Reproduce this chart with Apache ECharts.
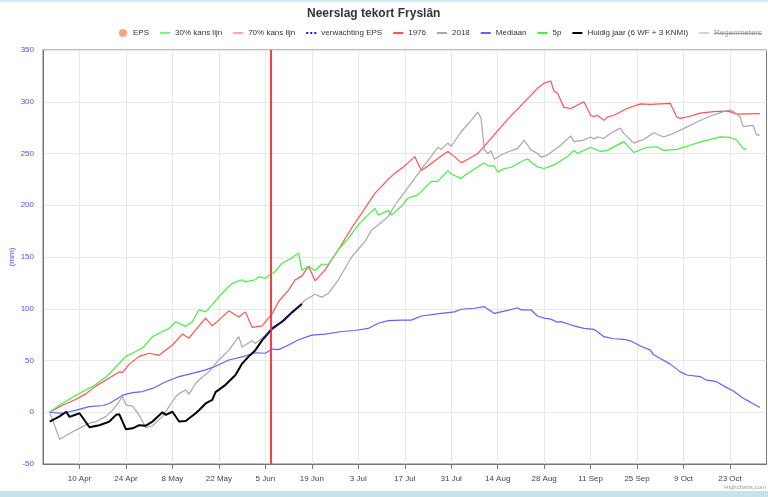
<!DOCTYPE html>
<html><head><meta charset="utf-8">
<script src="https://cdn.jsdelivr.net/npm/echarts@6/dist/echarts.min.js"></script>
<style>html,body{margin:0;padding:0;background:#fff}#c{width:768px;height:497px}</style>
</head><body><div id="c"></div>
<script>
const YEAR = 2023;
const chartTitle = 'Neerslag tekort Fryslân';
const monthNames = ['Jan','Feb','Mar','Apr','May','Jun','Jul','Aug','Sep','Oct','Nov','Dec'];
const xTicks = ['04-10','04-24','05-08','05-22','06-05','06-19','07-03','07-17','07-31','08-14','08-28','09-11','09-25','10-09','10-23'];
const xMin = '03-30', xMax = '11-03';
const todayLine = '06-06 17';
const yMin = -50, yMax = 350, yStep = 50;

const eps = [];
const kans30 = [];
const kans70 = [];
const verwachtingEPS = [['06-04',69.5],['06-07',80.5],['06-10',87.5],['06-13',96.5],['06-16',104.5]];
const y1976 = [['04-01',0],['04-05',7],['04-09',12.5],['04-12',18],['04-15',25.5],['04-19',33],['04-22',39],['04-23',38.5],['04-25',46.5],['04-28',54],['05-01',57],['05-04',55],['05-08',65],['05-11',75.5],['05-13',71.5],['05-15',79.5],['05-18',91],['05-20',83.5],['05-22',89],['05-25',98],['05-28',92],['05-30',97],['06-01',82],['06-04',83.5],['06-07',95],['06-09',107],['06-12',118],['06-14',128],['06-16',131.5],['06-18',141],['06-20',127],['06-23',137.5],['06-27',157],['07-01',178],['07-05',197],['07-08',211.5],['07-12',225],['07-14',231],['07-17',238],['07-20',247],['07-22',233.5],['07-24',238],['07-28',247.5],['07-30',252],['08-01',247],['08-03',241],['08-05',244.5],['08-08',250],['08-09',253.5],['08-17',283],['08-26',313],['08-28',318],['08-30',320],['08-31',310],['09-01',308.5],['09-03',294.5],['09-05',293.5],['09-09',300],['09-11',287],['09-12',285.5],['09-13',287],['09-15',282],['09-16',285],['09-18',287],['09-22',293.5],['09-26',298],['09-29',297.5],['10-02',298],['10-05',298.5],['10-07',285],['10-08',284],['10-11',286],['10-14',289],['10-18',290.5],['10-21',291],['10-23',290.5],['10-25',288],['11-01',288.5]];
const y2018 = [['04-01',0],['04-04',-26],['04-09',-17],['04-13',-10.5],['04-15',-9],['04-18',-4],['04-20',2],['04-23',15],['04-24',7],['04-26',6],['04-28',-3],['04-30',-15],['05-02',-13],['05-05',-4],['05-09',15],['05-10',18],['05-12',21.5],['05-13',17.5],['05-15',28],['05-17',34],['05-19',39],['05-22',50.5],['05-25',60],['05-28',73],['05-29',63],['06-01',69],['06-02',66.5],['06-05',74.5],['06-07',82],['06-11',89],['06-14',99],['06-17',108.5],['06-20',114],['06-22',111],['06-24',115],['06-27',128],['07-01',150],['07-05',165],['07-07',176],['07-09',181],['07-12',189],['07-14',200],['07-17',213],['07-20',226],['07-23',239],['07-27',256],['07-28',254],['07-30',260],['07-31',257],['08-03',271],['08-06',282],['08-08',290],['08-09',284],['08-10',253.5],['08-11',250],['08-12',252.5],['08-13',244.5],['08-15',248.5],['08-17',251.5],['08-20',255],['08-22',263],['08-24',253.5],['08-26',250],['08-27',246.5],['08-29',248.5],['09-02',258],['09-05',267],['09-06',261.5],['09-09',263],['09-11',266],['09-12',264],['09-13',266],['09-15',264.5],['09-17',269.5],['09-20',274.5],['09-21',269.5],['09-24',260],['09-27',263.5],['09-30',270],['10-03',266],['10-06',269.5],['10-09',274],['10-13',280.5],['10-17',286],['10-21',290.5],['10-23',292],['10-24',290.5],['10-26',285.5],['10-27',276],['10-29',277],['10-30',277],['10-31',268],['11-01',268]];
const mediaan = [['04-01',0],['04-05',-1],['04-09',2],['04-13',5.5],['04-17',6.5],['04-19',8.5],['04-23',16.5],['04-26',19],['04-29',20],['05-02',23],['05-06',29.5],['05-10',34.5],['05-14',37.5],['05-18',41],['05-21',44.5],['05-25',50.5],['05-29',53.5],['06-02',57.5],['06-05',57],['06-07',61],['06-09',60.5],['06-12',65],['06-15',70],['06-19',74.5],['06-23',75.5],['06-28',78],['07-02',79],['07-06',81],['07-09',86],['07-12',88.5],['07-16',89],['07-19',89],['07-22',93],['07-28',95.5],['08-01',97],['08-03',99.5],['08-07',100.5],['08-10',102],['08-13',95.5],['08-17',98.5],['08-20',101],['08-21',99],['08-24',99],['08-26',93],['08-28',91],['08-30',90],['09-01',87],['09-02',87.5],['09-04',85.5],['09-06',83.5],['09-09',81],['09-12',80],['09-13',78],['09-15',73],['09-18',71],['09-21',70.5],['09-23',69],['09-26',64],['09-29',60],['09-30',55.5],['10-02',52],['10-05',46.5],['10-08',39],['10-10',36],['10-14',34.5],['10-16',31],['10-19',29.5],['10-21',25.5],['10-24',20.5],['10-27',13.5],['10-29',10],['11-01',4.5]];
const p5 = [['04-01',0],['04-04',7],['04-09',16.5],['04-11',20],['04-14',25],['04-18',34],['04-21',44],['04-24',54],['04-25',55.5],['04-29',62],['05-02',73],['05-05',78],['05-07',81],['05-09',87.5],['05-12',83],['05-14',87.5],['05-16',99],['05-18',97],['05-20',104],['05-23',115],['05-26',124.5],['05-29',128],['05-30',126],['06-02',128],['06-03',131],['06-05',129.5],['06-07',134],['06-08',136],['06-10',144],['06-13',149],['06-15',154],['06-16',137],['06-18',141],['06-20',137],['06-22',143],['06-24',143],['06-27',157],['06-30',168],['07-03',181],['07-06',191],['07-08',197],['07-09',190.5],['07-12',195],['07-13',190.5],['07-16',199],['07-18',207],['07-21',210],['07-25',223],['07-27',223],['07-30',233.5],['07-31',230],['08-03',226],['08-05',231],['08-10',241],['08-11',238],['08-13',238],['08-14',232],['08-16',235.5],['08-18',236.5],['08-21',242],['08-23',245],['08-24',242],['08-26',237],['08-28',235.5],['08-31',239],['09-04',247],['09-06',253],['09-07',250],['09-11',256],['09-14',252],['09-16',253],['09-21',261.5],['09-24',251],['09-28',256],['10-01',256.5],['10-03',253],['10-07',254],['10-11',258],['10-15',262],['10-20',266],['10-23',265.5],['10-25',263],['10-27',255],['10-28',254]];
const huidigJaar = [['04-01',-9],['04-04',-4],['04-06',0.5],['04-07',-4.5],['04-10',-1],['04-13',-14.5],['04-16',-12.5],['04-19',-9],['04-21',-2.5],['04-22',-2],['04-24',-16.5],['04-26',-15.5],['04-28',-12.5],['04-30',-13],['05-02',-9],['05-05',0],['05-06',-2.5],['05-08',0.5],['05-10',-9],['05-12',-8.5],['05-15',-1],['05-16',2],['05-18',8.5],['05-20',12],['05-21',19.5],['05-24',26.5],['05-27',36],['05-29',47],['05-31',54],['06-02',60],['06-04',69.5],['06-07',80.5],['06-10',87.5],['06-13',96.5],['06-16',104.5]];
const regenmeters = [];

function t(s){const p=s.split(' ');const md=p[0].split('-').map(Number);return new Date(YEAR,md[0]-1,md[1],p[1]?+p[1]:0).getTime();}
function pts(a){return a.map(d=>[t(d[0]),d[1]]);}
const FONT='Liberation Sans, Arial, sans-serif';
const tickVals = xTicks.map(t);

const chart = echarts.init(document.getElementById('c'),null,{renderer:'canvas'});
function line(name,data,color,width,extra){
  return Object.assign({name,type:'line',data:pts(data),symbol:'none',showSymbol:false,color,
    lineStyle:{color,width},emphasis:{disabled:true},animation:false},extra||{});
}
chart.setOption({
  animation:false,
  backgroundColor:'#fff',
  title:{text:chartTitle,left:307,top:8,padding:0,textStyle:{fontFamily:FONT,fontSize:12,fontWeight:'bold',color:'#333'}},
  legend:{left:119,top:29,width:700,itemWidth:10,itemHeight:8,itemGap:10,padding:0,
    textStyle:{fontFamily:FONT,fontSize:8,color:'#333'},inactiveColor:'#999',
    itemStyle:{opacity:0},
    selected:{'Regenmeters':false},
    data:[{name:'EPS',icon:'circle',itemStyle:{opacity:1}},'30% kans lijn','70% kans lijn','verwachting EPS','1976','2018','Mediaan','5p','Huidig jaar (6 WF + 3 KNMI)','Regenmeters']},
  grid:{left:43,top:50,width:723.5,bottom:33,outerBoundsMode:'none',containLabel:false,show:true,borderColor:'#777',borderWidth:1,backgroundColor:'transparent'},
  xAxis:{type:'value',min:t(xMin),max:t(xMax),
    axisLine:{show:true,onZero:false,lineStyle:{color:'#777'}},
    axisTick:{show:true,length:5,lineStyle:{color:'#777'},customValues:tickVals},
    axisLabel:{customValues:tickVals,margin:11,fontFamily:FONT,fontSize:8,color:'#444',
      formatter:v=>{const d=new Date(v);return d.getDate()+' '+monthNames[d.getMonth()];}},
    splitLine:{show:true,lineStyle:{color:'#e8e8e8'}}},
  yAxis:{type:'value',min:yMin,max:yMax,interval:yStep,name:'(mm)',nameLocation:'middle',nameGap:27,nameMoveOverlap:false,
    nameTextStyle:{fontFamily:FONT,fontSize:8,color:'#4d4dff'},
    axisLine:{show:true,lineStyle:{color:'#777'}},axisTick:{show:false},
    axisLabel:{margin:9,fontFamily:FONT,fontSize:8,color:'#4d4dff'},
    splitLine:{show:true,lineStyle:{color:'#e8e8e8'}}},
  graphic:[
    {type:'rect',shape:{x:0,y:0,width:768,height:2},style:{fill:'#d4eaf2'},z:-1},
    {type:'rect',shape:{x:0,y:491,width:768,height:6},style:{fill:'#c6e2eb'},z:-1},
    {type:'text',right:2,top:484,style:{text:'Highcharts.com',fontFamily:FONT,fontSize:6,fill:'#999'}},
    {type:'line',shape:{x1:714,y1:33.5,x2:762,y2:33.5},style:{stroke:'#999',lineWidth:1}}
  ],
  series:[
    {name:'EPS',type:'scatter',data:pts(eps),color:'#f4a582',symbolSize:7},
    line('30% kans lijn',kans30,'#88ee88',1.2),
    line('70% kans lijn',kans70,'#ffaaaa',1.2),
    line('1976',y1976,'#ff5252',1.2),
    line('2018',y2018,'#a8a8a8',1.2),
    line('Mediaan',mediaan,'#6262ff',1.2),
    line('5p',p5,'#44ee44',1.2),
    line('Huidig jaar (6 WF + 3 KNMI)',huidigJaar,'#000000',2,{
      markLine:{silent:true,symbol:'none',label:{show:false},animation:false,
        lineStyle:{color:'#ff3b3b',width:2,type:'solid'},data:[{xAxis:t(todayLine)}]}}),
    line('verwachting EPS',verwachtingEPS,'#1a1acc',1.5,{lineStyle:{color:'#1a1acc',width:1.5,type:'dotted'},z:5}),
    line('Regenmeters',regenmeters,'#999999',1.2)
  ]
});
</script></body></html>
